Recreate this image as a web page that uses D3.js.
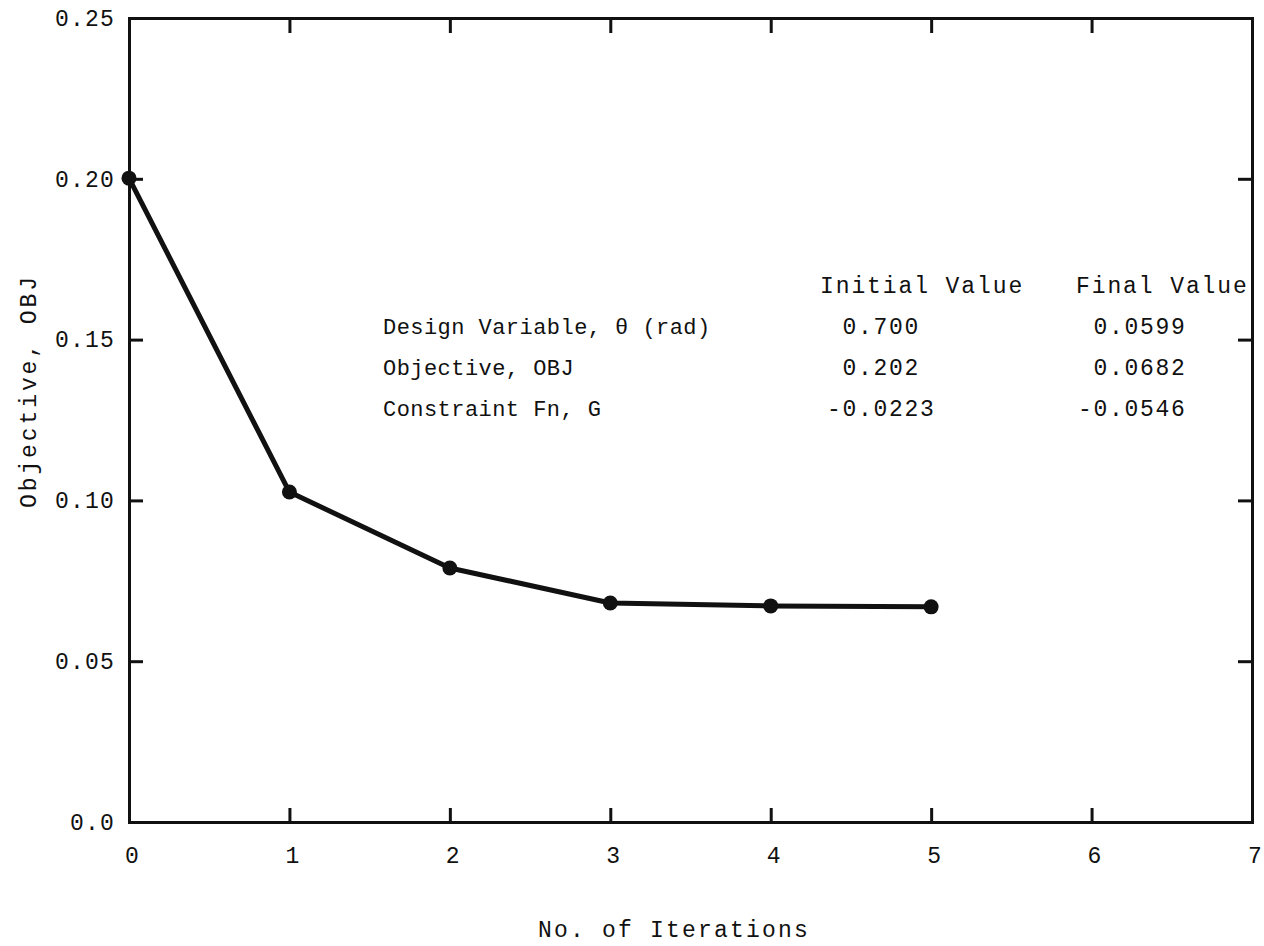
<!DOCTYPE html>
<html>
<head>
<meta charset="utf-8">
<script src="https://cdn.jsdelivr.net/npm/d3@7"></script>
<style>
  body { margin: 0; background: #fff; }
  svg { display: block; }
  text { font-family: "Liberation Mono", "DejaVu Sans Mono", monospace; fill: #111; }
</style>
</head>
<body>
<div id="chart"></div>
<script>
// data
var iterations = [0, 1, 2, 3, 4, 5];
var objective = [0.2002, 0.1026, 0.0790, 0.0681, 0.0672, 0.0669];

var xTicks = [0, 1, 2, 3, 4, 5, 6, 7];
var yTicks = [0, 0.05, 0.10, 0.15, 0.20, 0.25];

var tableRows = ["Design Variable, \u03b8 (rad)", "Objective, OBJ", "Constraint Fn, G"];
var tableHeads = ["Initial Value", "Final Value"];
var initialValues = ["0.700", "0.202", "-0.0223"];
var finalValues = ["0.0599", "0.0682", "-0.0546"];

var width = 1264, height = 946;
var ink = "#111";

var svg = d3.select("#chart").append("svg")
    .attr("width", width).attr("height", height);

var x = d3.scaleLinear().domain([0, 7]).range([129, 1252]);
var y = d3.scaleLinear().domain([0, 0.25]).range([822, 18]);

function yFormat(d) { return d === 0 ? "0.0" : d3.format(".2f")(d); }

// axes, ticks point inward
var axBottom = svg.append("g").attr("transform", "translate(0," + y(0) + ")")
    .call(d3.axisBottom(x).tickValues(xTicks).tickSizeInner(-14).tickSizeOuter(0).tickPadding(25).tickFormat(d3.format("d")));
var axTop = svg.append("g").attr("transform", "translate(0," + y(0.25) + ")")
    .call(d3.axisTop(x).tickValues(xTicks.slice(1, 7)).tickSizeInner(-15).tickSizeOuter(0).tickFormat(""));
var axLeft = svg.append("g").attr("transform", "translate(" + x(0) + ",0)")
    .call(d3.axisLeft(y).tickValues(yTicks).tickSizeInner(-14).tickSizeOuter(0).tickPadding(14).tickFormat(yFormat));
var axRight = svg.append("g").attr("transform", "translate(" + x(7) + ",0)")
    .call(d3.axisRight(y).tickValues(yTicks.slice(1, 5)).tickSizeInner(-14).tickSizeOuter(0).tickFormat(""));

[axBottom, axTop, axLeft, axRight].forEach(function(g) {
    g.attr("font-size", null).attr("font-family", null);
    g.select(".domain").attr("stroke", ink).attr("stroke-width", 3).attr("stroke-linecap", "square");
    g.selectAll(".tick line").attr("stroke", ink).attr("stroke-width", 3);
    g.selectAll(".tick text")
        .attr("fill", ink)
        .style("font-size", "23px")
        .style("letter-spacing", "1.2px");
});
axBottom.selectAll(".tick text").attr("dx", "3");

// line and points
var line = d3.line()
    .x(function(d, i) { return x(iterations[i]); })
    .y(function(d) { return y(d); });

svg.append("path").datum(objective)
    .attr("d", line)
    .attr("fill", "none")
    .attr("stroke", ink)
    .attr("stroke-width", 5)
    .attr("stroke-linejoin", "round");

svg.selectAll(".pt").data(objective).enter().append("circle")
    .attr("class", "pt")
    .attr("cx", function(d, i) { return x(iterations[i]); })
    .attr("cy", function(d) { return y(d); })
    .attr("r", 7.5)
    .attr("fill", ink);

// table of initial / final values
var table = svg.append("g").style("font-size", "22px");
table.selectAll(".head").data(tableHeads).enter().append("text")
    .attr("x", function(d, i) { return [820, 1076][i]; })
    .attr("y", 293)
    .style("font-size", "23px")
    .style("letter-spacing", "1.9px")
    .text(function(d) { return d; });

table.selectAll(".row").data(tableRows).enter().append("text")
    .attr("x", 383)
    .attr("y", function(d, i) { return 334 + i * 41; })
    .style("letter-spacing", "0.45px")
    .text(function(d) { return d; });

// numbers aligned on the decimal point
function decimalX(pointX) {
    return function(d) { return pointX - d.indexOf(".") * 15.5; };
}
table.selectAll(".init").data(initialValues).enter().append("text")
    .attr("x", decimalX(858))
    .attr("y", function(d, i) { return 334 + i * 41; })
    .style("font-size", "23px")
    .style("letter-spacing", "1.7px")
    .text(function(d) { return d; });

table.selectAll(".fin").data(finalValues).enter().append("text")
    .attr("x", decimalX(1109))
    .attr("y", function(d, i) { return 334 + i * 41; })
    .style("font-size", "23px")
    .style("letter-spacing", "1.7px")
    .text(function(d) { return d; });

// axis titles
svg.append("text")
    .attr("x", 538).attr("y", 937)
    .style("font-size", "23px")
    .style("letter-spacing", "2.2px")
    .text("No. of Iterations");

svg.append("text")
    .attr("transform", "translate(36,508) rotate(-90)")
    .style("font-size", "23px")
    .style("letter-spacing", "2.9px")
    .text("Objective, OBJ");
</script>
</body>
</html>
